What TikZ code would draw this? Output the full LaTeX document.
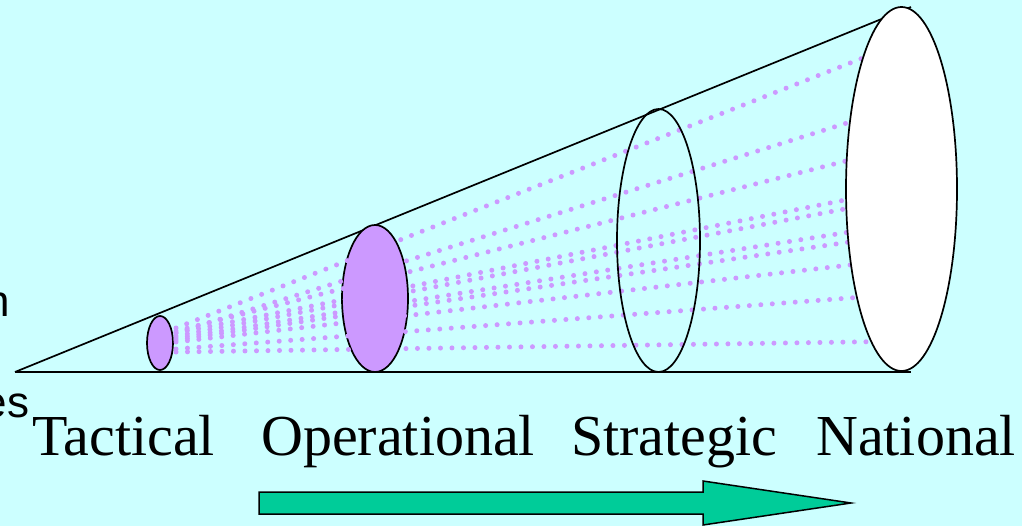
\documentclass[tikz,border=0pt]{standalone}
\usepackage{fontspec}
\setmainfont{Liberation Serif}
\newfontfamily\arialfont{Liberation Sans}
\usetikzlibrary{shapes.geometric}
\definecolor{bgcyan}{HTML}{CCFFFF}
\definecolor{lilac}{HTML}{CC99FF}
\definecolor{arrowgreen}{HTML}{00CC99}
\tikzset{
  coneline/.style={draw=black, line width=1.7pt},
  levelell/.style={ellipse, draw=black, line width=1.7pt, inner sep=0pt, outer sep=0pt},
  dotline/.style={draw=lilac, line width=5pt, line cap=round, dash pattern=on 0pt off 11.5pt},
  lvlabel/.style={font=\fontsize{58}{60}\selectfont, inner sep=0pt, anchor=base west},
  cutlabel/.style={font=\arialfont\fontsize{44}{46}\selectfont, inner sep=0pt, anchor=base east},
  bigarrow/.style={fill=arrowgreen, draw=black, line width=1.5pt, line join=miter}
}
\begin{document}
\begin{tikzpicture}[x=1pt,y=-1pt]
\useasboundingbox (0,0) rectangle (1022,526);
\clip (0,0) rectangle (1022,526);
\fill[bgcyan] (0,0) rectangle (1022,526);

% cone
\coordinate (apex) at (15,372);
\coordinate (conetop) at (911,7);
\coordinate (conebase) at (911,372);
\draw[coneline] (apex) -- (conetop);
\draw[coneline] (apex) -- (conebase);

% tactical and operational ellipses
\node[levelell, fill=lilac, minimum width=26pt, minimum height=54pt] (tac) at (160,343) {};
\node[levelell, fill=lilac, minimum width=66pt, minimum height=147pt] (ope) at (375,298.5) {};

% dotted fan lines
\foreach \i/\ys/\ye in {1/328/43.4, 2/333/106.4, 3/331/147.3, 4/333/189.1, 5/336/198.5,
                        6/338/224.1, 7/340/234.7, 8/342/259.3, 9/349/294.2, 10/352/341.3}{
  \coordinate (s\i) at (176,\ys);
  \coordinate (e\i) at (900,\ye);
  \draw[dotline] (s\i) -- (e\i);
}

% strategic and national ellipses
\node[levelell, minimum width=83pt, minimum height=263pt] (str) at (658.5,240.5) {};
\node[levelell, fill=white, minimum width=111pt, minimum height=364pt] (nat) at (901.5,189) {};

% labels
\node[lvlabel] (ltac) at (32,455) {Tactical};
\node[lvlabel] (lope) at (261,455) {Operational};
\node[lvlabel] (lstr) at (571,455) {Strategic};
\node[lvlabel] (lnat) at (816,455) {National};

% cut-off text on the left
\node[cutlabel] (cutn) at (10,317) {n};
\node[cutlabel] (cutes) at (29.5,417) {es};

% green arrow
\draw[bigarrow] (259,492) -- (703,492) -- (703,481) -- (851,503) -- (703,525) -- (703,514) -- (259,514) -- cycle;
\end{tikzpicture}
\end{document}
